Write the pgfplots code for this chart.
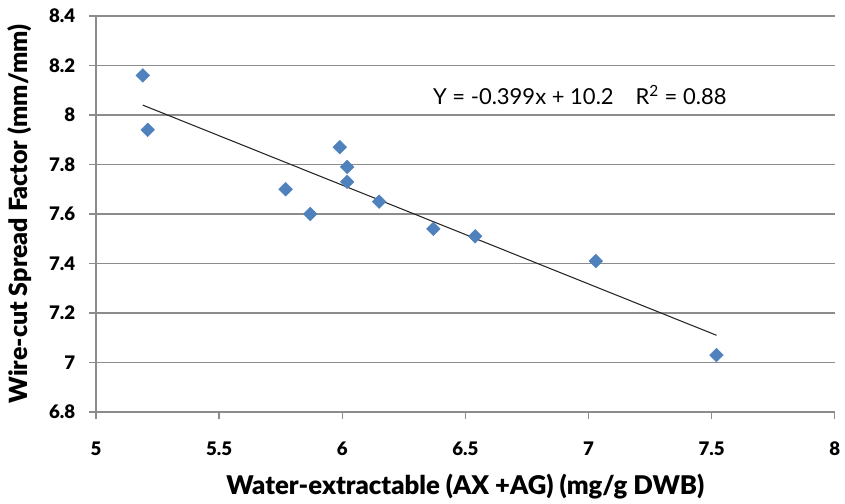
\documentclass[border=0pt]{standalone}
\usepackage{pgfplots}
\pgfplotsset{compat=1.18}
\usepackage{fontspec}
\setmainfont{Lato}[BoldFont={Lato Bold}]
\newfontfamily\lb{Lato Bold}
\newfontfamily\lk{Lato Black}
\definecolor{ptblue}{HTML}{4F81BD}
\definecolor{gridgray}{HTML}{8C8C8C}
\pgfplotstableread{
x y
5.19 8.16
5.21 7.94
5.99 7.87
6.02 7.79
6.02 7.73
5.77 7.70
5.87 7.60
6.15 7.65
6.37 7.54
6.54 7.51
7.03 7.41
7.52 7.03
}\pts
\begin{document}
\begin{tikzpicture}
\path[use as bounding box] (-72pt,-68.25pt) rectangle (561.75pt,309pt);
\begin{axis}[
  at={(0,0)}, anchor=south west,
  scale only axis, width=554pt, height=297pt,
  xmin=5, xmax=8, ymin=6.8, ymax=8.4,
  xtick={5,5.5,...,8}, ytick={6.8,7.0,...,8.41},
  axis x line=bottom, axis y line=left,
  axis line style={gridgray, line width=1.1pt, -},
  tick style={gridgray, line width=1pt},
  tick align=outside, major tick length=5pt,
  ymajorgrids, grid style={gridgray, line width=1.1pt},
  /pgf/number format/assume math mode=true,
  tick label style={font=\fontsize{14}{16}\selectfont\lk},
  xticklabel style={yshift=-14pt},
  yticklabel style={xshift=-7pt},
  xlabel={Water-extractable (AX +AG) (mg/g DWB)},
  ylabel={Wire-cut Spread Factor (mm/mm)},
  xlabel style={font=\fontsize{19.3}{21}\selectfont\lk, at={(axis description cs:0.5,0)}, yshift=-43pt, anchor=north},
  ylabel style={font=\fontsize{18.8}{21}\selectfont\lk, at={(axis description cs:0,0.5)}, yshift=45pt, anchor=south},
  clip=false,
]
\addplot[mark=none, color=black!85, line width=0.8pt] coordinates {(5.19,8.04) (7.52,7.11)};
\addplot[only marks, mark=square*, mark size=3.6pt, mark options={rotate=45, fill=ptblue, draw=ptblue}] table[x=x,y=y] {\pts};
\node[font=\fontsize{16.5}{18}\selectfont] at (axis cs:6.965,8.08) {Y = -0.399x + 10.2\quad R\textsuperscript{2} = 0.88};
\end{axis}
\end{tikzpicture}
\end{document}
